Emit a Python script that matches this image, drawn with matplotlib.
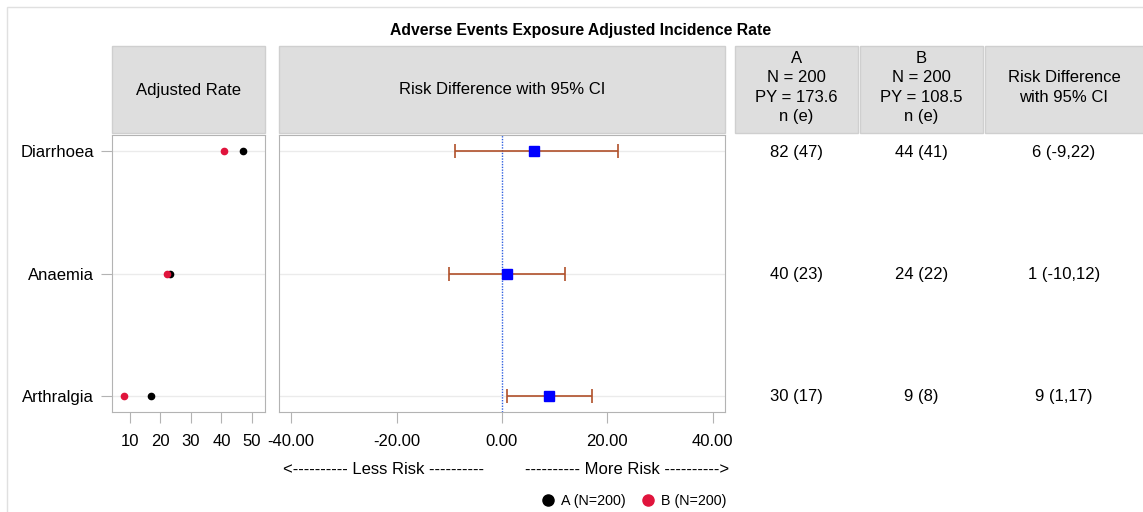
import matplotlib
matplotlib.use('Agg')
import matplotlib.pyplot as plt
from matplotlib.patches import Rectangle
from matplotlib.lines import Line2D

plt.rcParams['font.family'] = ['Liberation Sans', 'DejaVu Sans']

# data
events = ['Diarrhoea', 'Anaemia', 'Arthralgia']
rate_a = [47, 23, 17]
rate_b = [41, 22, 8]
rd = [6, 1, 9]
rd_low = [-9, -10, 1]
rd_high = [22, 12, 17]
n_a = [82, 40, 30]
n_b = [44, 24, 9]
rate_ticks = [10, 20, 30, 40, 50]
rd_ticks = [-40, -20, 0, 20, 40]
col_heads = ['A\nN = 200\nPY = 173.6\nn (e)', 'B\nN = 200\nPY = 108.5\nn (e)',
             'Risk Difference\nwith 95% CI']

W, H = 1143, 512
FS = 12
fig = plt.figure(figsize=(W / 100, H / 100), dpi=100)


def box(x0, y0, x1, y1):
    return [x0 / W, 1 - y1 / H, (x1 - x0) / W, (y1 - y0) / H]


def fx(x):
    return x / W


def fy(y):
    return 1 - y / H


# outer frame
fig.add_artist(Rectangle((fx(7), fy(530)), fx(1160) - fx(7), fy(7) - fy(530),
                         transform=fig.transFigure, fill=False, ec='#E0E0E0', lw=1))

fig.text(fx(581), fy(30), 'Adverse Events Exposure Adjusted Incidence Rate',
         ha='center', va='center', fontsize=11.3, fontweight='bold')

hdr = '#DEDEDE'
hdr_edge = '#CFCFCF'
heads = [(112, 265, 'Adjusted Rate'), (279, 725, 'Risk Difference with 95% CI')]
for x0, x1, label in heads:
    fig.add_artist(Rectangle((fx(x0), fy(133)), fx(x1) - fx(x0), fy(46) - fy(133),
                             transform=fig.transFigure, fc=hdr, ec=hdr_edge, lw=1))
    fig.text(fx((x0 + x1) / 2), fy(90), label, ha='center', va='center', fontsize=FS)

col_x = [(735, 858), (860, 983), (985, 1150)]
for (x0, x1), label in zip(col_x, col_heads):
    fig.add_artist(Rectangle((fx(x0), fy(133)), fx(x1) - fx(x0), fy(46) - fy(133),
                             transform=fig.transFigure, fc=hdr, ec=hdr_edge, lw=1))

centers = [796.5, 921.5, 1064]
for cx, label in zip(centers, col_heads):
    fig.text(fx(cx), fy(87.5), label, ha='center', va='center', fontsize=FS, linespacing=1.36)

ypos = [3, 2, 1]
spine_c = '#B3B3B3'
grid_c = '#EBEBEB'


def style(ax):
    for s in ax.spines.values():
        s.set_color(spine_c)
    ax.tick_params(colors=spine_c, labelcolor='black', labelsize=FS, length=8)
    ax.set_ylim(0.87, 3.13)
    for y in ypos:
        ax.axhline(y, color=grid_c, lw=1, zorder=0)


ax1 = fig.add_axes(box(112, 135, 265, 412))
style(ax1)
ax1.plot(rate_a, ypos, 'o', color='black', ms=4.5, zorder=3)
ax1.plot(rate_b, ypos, 'o', color='#E0143C', ms=4.5, zorder=3)
ax1.set_xlim(4.1, 54.3)
ax1.set_xticks(rate_ticks)
ax1.set_yticks(ypos)
ax1.set_yticklabels(events)
ax1.tick_params(axis='x', pad=8)
ax1.tick_params(axis='y', pad=5)

ax2 = fig.add_axes(box(279, 135, 725, 412))
style(ax2)
ax2.axvline(0, color='#3060E0', lw=1, ls=(0, (1, 1)), zorder=1)
for y, m, lo, hi in zip(ypos, rd, rd_low, rd_high):
    ax2.errorbar([m], [y], xerr=[[m - lo], [hi - m]], fmt='none', ecolor='#B0502A',
                 elinewidth=1.2, capsize=4.7, capthick=1.2, zorder=2)
ax2.plot(rd, ypos, 's', color='#0000FF', ms=6.5, zorder=3)
ax2.set_xlim(-42.3, 42.3)
ax2.set_xticks(rd_ticks)
ax2.set_xticklabels(['%.2f' % t for t in rd_ticks])
ax2.set_yticks([])
ax2.tick_params(axis='x', pad=8)

for i, y in enumerate(ypos):
    yy = fy(152 + i * 122.5)
    fig.text(fx(centers[0]), yy, '%d (%d)' % (n_a[i], rate_a[i]), ha='center', va='center', fontsize=FS)
    fig.text(fx(centers[1]), yy, '%d (%d)' % (n_b[i], rate_b[i]), ha='center', va='center', fontsize=FS)
    fig.text(fx(centers[2]), yy, '%d (%d,%d)' % (rd[i], rd_low[i], rd_high[i]),
             ha='center', va='center', fontsize=FS)

fig.text(fx(383), fy(469), '<---------- Less Risk ----------', ha='center', va='center', fontsize=FS)
fig.text(fx(627), fy(469), '---------- More Risk ---------->', ha='center', va='center', fontsize=FS)

handles = [Line2D([], [], marker='o', ls='none', color='black', ms=8),
           Line2D([], [], marker='o', ls='none', color='#E0143C', ms=8)]
fig.legend(handles, ['A (N=200)', 'B (N=200)'], loc='center', bbox_to_anchor=(fx(633), fy(501)),
           ncol=2, frameon=False, fontsize=10.3, handletextpad=0.3, columnspacing=1.0,
           handlelength=1.2)

fig.savefig('out.png', dpi=100)
